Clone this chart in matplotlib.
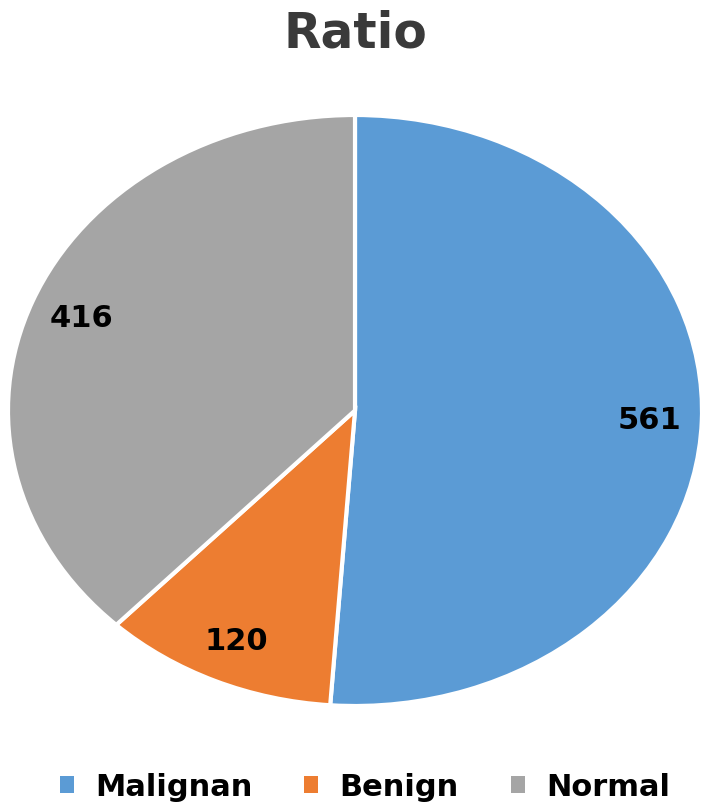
import matplotlib
matplotlib.use("Agg")
import matplotlib.pyplot as plt
from matplotlib.patches import Patch

# ── Data ──────────────────────────────────────────────────────────────────────
CATEGORIES = ["Malignan", "Benign", "Normal"]
COUNTS = [561, 120, 416]
COLORS = ["#5B9BD5", "#ED7D31", "#A5A5A5"]

plt.rcParams["font.family"] = "DejaVu Sans"

fig = plt.figure(figsize=(7.11, 8.12), dpi=100)
# stretched pie: axes wider than tall, aspect left free
ax = fig.add_axes([8 / 711, 105 / 812, 694 / 711, 591 / 812])

wedges, texts = ax.pie(
    COUNTS, colors=COLORS, startangle=90, counterclock=False,
    labels=[str(c) for c in COUNTS], labeldistance=0.85,
    wedgeprops=dict(edgecolor="white", linewidth=3),
    textprops=dict(fontsize=22, fontweight="bold", color="black",
                   ha="center", va="center"),
)
ax.set_aspect("auto")
ax.set_xlim(-1.0, 1.0)
ax.set_ylim(-1.0, 1.0)

fig.text(0.5, 1 - 33 / 812, "Ratio", ha="center", va="center",
         fontsize=35, fontweight="bold", color="#3a3a3a")

handles = [Patch(facecolor=c, edgecolor="none") for c in COLORS]
fig.legend(handles, CATEGORIES, loc="center", ncol=3,
           bbox_to_anchor=(365 / 711, 1 - 788 / 812), frameon=False,
           handlelength=0.45, handleheight=0.45, handletextpad=0.7,
           columnspacing=1.7,
           prop=dict(size=22, weight="bold"))

fig.savefig("out.png", dpi=100, facecolor="white")
